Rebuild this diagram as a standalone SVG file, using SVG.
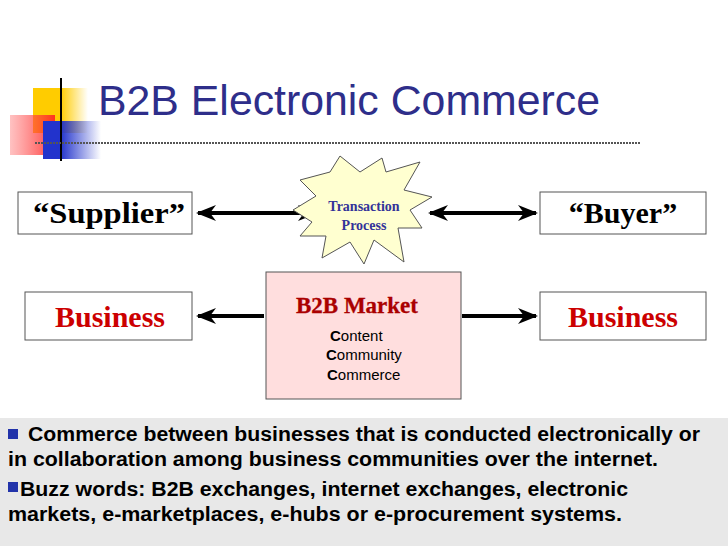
<svg xmlns="http://www.w3.org/2000/svg" width="728" height="546" viewBox="0 0 728 546">
<defs>
<style>
.box{fill:#fff;stroke:#555;stroke-width:1}
.lbl{font-family:"Liberation Serif",serif;font-weight:bold;font-size:30px;text-anchor:middle}
.conn{stroke:#000;stroke-width:4;fill:none}
.body{font-family:"Liberation Sans",sans-serif;font-weight:bold;font-size:20px;fill:#000}
.cc{font-family:"Liberation Sans",sans-serif;font-size:15px;fill:#000}
</style>
<marker id="ah" viewBox="0 0 20 16" refX="18" refY="8" markerWidth="20" markerHeight="16" markerUnits="userSpaceOnUse" orient="auto-start-reverse">
<path d="M0,0 L20,8 L0,16 L6,8 Z" fill="#000"/>
</marker>
<linearGradient id="gy" x1="0" x2="1"><stop offset="0.5" stop-color="#ffcc00"/><stop offset="1" stop-color="#ffcc00" stop-opacity="0"/></linearGradient>
<linearGradient id="gr" x1="0" x2="1"><stop offset="0" stop-color="#ff6666" stop-opacity="0.4"/><stop offset="1" stop-color="#ff2222" stop-opacity="0.9"/></linearGradient>
<linearGradient id="gb" x1="0" x2="1"><stop offset="0.3" stop-color="#2233cc"/><stop offset="1" stop-color="#2233cc" stop-opacity="0"/></linearGradient>
</defs>
<rect width="728" height="546" fill="#fff"/>
<g id="logo">
<rect x="33" y="88" width="55" height="45" fill="url(#gy)"/>
<rect x="10" y="115" width="45" height="40" fill="url(#gr)"/>
<rect x="43" y="121" width="58" height="38" fill="url(#gb)"/>
<line x1="61" y1="78" x2="61" y2="161" stroke="#000" stroke-width="2"/>
<line x1="35" y1="143" x2="640" y2="143" stroke="#555" stroke-width="2" stroke-dasharray="2,1"/>
</g>
<text x="98" y="115" font-family="Liberation Sans,sans-serif" font-size="42" fill="#2e2e8a" textLength="502" lengthAdjust="spacingAndGlyphs">B2B Electronic Commerce</text>
<g id="connectors">
<line class="conn" x1="198" y1="213" x2="316" y2="213" marker-start="url(#ah)" marker-end="url(#ah)"/>
<line class="conn" x1="430" y1="213" x2="536" y2="213" marker-start="url(#ah)" marker-end="url(#ah)"/>
<line class="conn" x1="198" y1="316" x2="264" y2="316" marker-start="url(#ah)"/>
<line class="conn" x1="462" y1="316" x2="536" y2="316" marker-end="url(#ah)"/>
</g>
<g id="supplier"><rect class="box" x="18" y="192" width="174" height="42"/><text class="lbl" x="109" y="223" textLength="152" lengthAdjust="spacingAndGlyphs">“Supplier”</text></g>
<g id="buyer"><rect class="box" x="540" y="192" width="166" height="42"/><text class="lbl" x="623" y="223">“Buyer”</text></g>
<g id="business-left"><rect class="box" x="25" y="292" width="167" height="48"/><text class="lbl" x="110" y="327" fill="#cc0000">Business</text></g>
<g id="business-right"><rect class="box" x="540" y="292" width="166" height="48"/><text class="lbl" x="623" y="327" fill="#cc0000">Business</text></g>
<g id="transaction">
<polygon points="300,180 330,172 340,156 360,172 382,158 386,172 420,162 404,190 432,197 410,210 422,228 398,228 404,262 374,240 364,264 350,242 322,258 326,236 300,236 312,222 293,210 316,196" fill="#ffffd0" stroke="#555" stroke-width="1"/>
<text x="364" y="211" text-anchor="middle" font-family="Liberation Serif,serif" font-weight="bold" font-size="14" fill="#333399">Transaction</text>
<text x="364" y="230" text-anchor="middle" font-family="Liberation Serif,serif" font-weight="bold" font-size="14" fill="#333399">Process</text>
</g>
<g id="market">
<rect x="266" y="272" width="195" height="127" fill="#ffdede" stroke="#555" stroke-width="1"/>
<text x="357" y="313" text-anchor="middle" font-family="Liberation Serif,serif" font-weight="bold" font-size="23" fill="#aa0000" stroke="#aa0000" stroke-width="0.3">B2B Market</text>
<text class="cc" x="330" y="341"><tspan font-weight="bold">C</tspan>ontent</text>
<text class="cc" x="326" y="360"><tspan font-weight="bold">C</tspan>ommunity</text>
<text class="cc" x="327" y="380"><tspan font-weight="bold">C</tspan>ommerce</text>
</g>
<g id="notes">
<rect x="0" y="418" width="728" height="128" fill="#e8e8e8"/>
<rect x="8" y="429" width="10" height="10" fill="#2233aa"/>
<text class="body" x="28" y="441" textLength="672" lengthAdjust="spacingAndGlyphs">Commerce between businesses that is conducted electronically or</text>
<text class="body" x="8" y="466" textLength="650" lengthAdjust="spacingAndGlyphs">in collaboration among business communities over the internet.</text>
<rect x="8" y="482" width="10" height="10" fill="#2233aa"/>
<text class="body" x="20" y="496" textLength="608" lengthAdjust="spacingAndGlyphs">Buzz words: B2B exchanges, internet exchanges, electronic</text>
<text class="body" x="8" y="521" textLength="614" lengthAdjust="spacingAndGlyphs">markets, e-marketplaces, e-hubs or e-procurement systems.</text>
</g>
</svg>
